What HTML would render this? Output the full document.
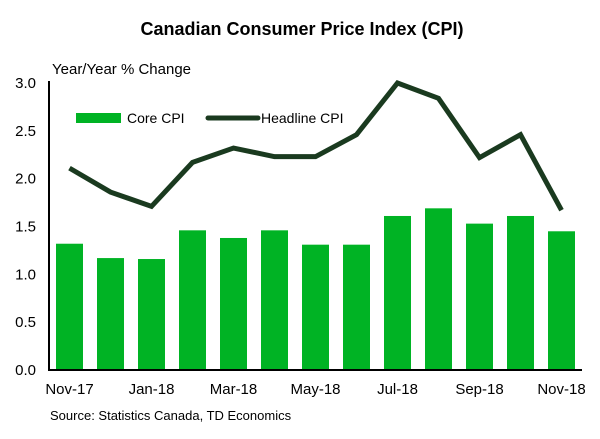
<!DOCTYPE html>
<html><head><meta charset="utf-8"><style>
body{margin:0;background:#fff;font-family:"Liberation Sans",Arial,sans-serif}
svg text{font-family:"Liberation Sans",Arial,sans-serif}
</style></head><body>
<svg width="600" height="434">
<text x="302" y="35" text-anchor="middle" font-size="18" font-weight="bold" fill="#000">Canadian Consumer Price Index (CPI)</text>
<text x="52" y="74" font-size="15" fill="#000">Year/Year % Change</text>
<g id="plot"></g>
<g>
<rect x="76" y="113" width="45" height="10" fill="#00b324"/>
<text x="127" y="123" font-size="14">Core CPI</text>
<line x1="208" y1="118" x2="258" y2="118" stroke="#1a3a1f" stroke-width="5" stroke-linecap="round"/>
<text x="261" y="123" font-size="14">Headline CPI</text>
</g>
<text x="50" y="420" font-size="13">Source: Statistics Canada, TD Economics</text>
</svg>
<script>
const categories=["Nov-17","Dec-17","Jan-18","Feb-18","Mar-18","Apr-18","May-18","Jun-18","Jul-18","Aug-18","Sep-18","Oct-18","Nov-18"];
const coreCPI=[1.32,1.17,1.16,1.46,1.38,1.46,1.31,1.31,1.61,1.69,1.53,1.61,1.45];
const headlineCPI=[2.11,1.86,1.71,2.17,2.32,2.23,2.23,2.46,3.0,2.84,2.22,2.46,1.67];
const yTicks=[0,0.5,1.0,1.5,2.0,2.5,3.0];
const xLabelIdx=[0,2,4,6,8,10,12];
const NS="http://www.w3.org/2000/svg";
const g=document.getElementById('plot');
const x0=49,x1=582,y0=370,yTop=83;
const slot=(x1-x0)/categories.length;
const xc=i=>x0+slot*(i+0.5);
const ys=v=>y0-(v/3)*(y0-yTop);
function mk(t,a){const e=document.createElementNS(NS,t);for(const k in a)e.setAttribute(k,a[k]);g.appendChild(e);return e;}
coreCPI.forEach((v,i)=>{
const r=mk('rect',{x:xc(i)-13.5,y:ys(v),width:27,height:y0-ys(v),fill:'#00b324'});


});
const p=mk('polyline',{points:headlineCPI.map((v,i)=>xc(i)+','+ys(v)).join(' '),fill:'none',stroke:'#1a3a1f','stroke-width':5,'stroke-linejoin':'miter'});


const ya=mk('line',{x1:x0,y1:yTop-2,x2:x0,y2:y0+1,stroke:'#000','stroke-width':2});


const xa=mk('line',{x1:x0,y1:y0,x2:x1,y2:y0,stroke:'#000','stroke-width':2});


yTicks.forEach(v=>{
const t=mk('text',{x:36,y:ys(v)+5,'text-anchor':'end','font-size':15});
t.textContent=v.toFixed(1);


});
xLabelIdx.forEach(i=>{
const t=mk('text',{x:xc(i),y:394,'text-anchor':'middle','font-size':15});
t.textContent=categories[i];


});
</script>
</body></html>
